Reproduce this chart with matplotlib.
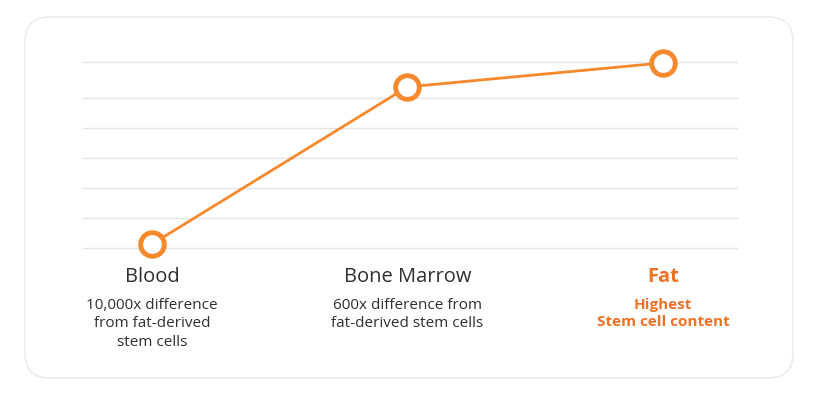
import matplotlib.pyplot as plt
from matplotlib.patches import FancyBboxPatch
from matplotlib.transforms import blended_transform_factory

plt.rcParams['font.family'] = ['Open Sans', 'DejaVu Sans']

categories = ['Blood', 'Bone Marrow', 'Fat']
values = [0.13, 5.37, 6.17]
notes = ['10,000x difference\nfrom fat-derived\nstem cells',
         '600x difference from\nfat-derived stem cells',
         'Highest\nStem cell content']
grid_levels = [0, 1, 2, 3, 4, 5, 6.2]

orange = '#F7892D'
fat_orange = '#EE7226'
dark = '#2E2E33'

fig = plt.figure(figsize=(8.2, 4), dpi=100)

# card background (behind the axes)
card = FancyBboxPatch((25 / 820, 1 - 378 / 400), 768 / 820, 361 / 400,
                      boxstyle='round,pad=0,rounding_size=0.03',
                      transform=fig.transFigure, facecolor='white',
                      edgecolor='#ECECEC', linewidth=1.2,
                      mutation_aspect=820 / 400, zorder=-10)
fig.patches.append(card)

ax = fig.add_axes([83 / 820, 1 - 248 / 400, 654 / 820, 186 / 400])
ax.set_xlim(-0.27, 2.29)
ax.set_ylim(0, 6.2)
for lv in grid_levels:
    ax.axhline(lv, color='#E5E5E5', linewidth=1, zorder=1, clip_on=False)

x = list(range(len(categories)))
ax.plot(x, values, color=orange, linewidth=2, zorder=3,
        marker='o', markersize=17, markerfacecolor='white',
        markeredgecolor=orange, markeredgewidth=3.5, clip_on=False)

ax.axis('off')

tr = blended_transform_factory(ax.transData, fig.transFigure)
for i, (cat, note) in enumerate(zip(categories, notes)):
    col = fat_orange if cat == 'Fat' else dark
    wt = 'bold' if cat == 'Fat' else 'medium'
    ax.text(i, 1 - 277 / 400, cat, transform=tr, ha='center', va='center',
            fontsize=14.5, color=col, fontweight=wt)
    ax.text(i, 1 - 298 / 400, note, transform=tr, ha='center', va='top',
            fontsize=11, color=col, fontweight=wt, linespacing=1.3)

fig.savefig('out.png', dpi=100)
